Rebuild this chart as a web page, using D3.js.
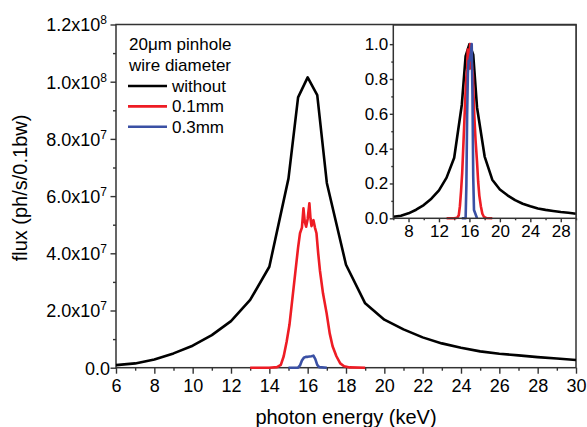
<!DOCTYPE html>
<html>
<head>
<meta charset="utf-8">
<script src="https://cdn.jsdelivr.net/npm/d3@7"></script>
<style>
  body { margin: 0; background: #fff; }
  text { font-family: "Liberation Sans", Arial, sans-serif; fill: #000; }
  .axis .domain { display: none; }
  .axis line { stroke: #333; stroke-width: 1.4; }
</style>
</head>
<body>
<div id="my_chart"></div>
<script>
// data (flux in units of 1e7 ph/s/0.1bw)
const energyWithout = [6, 7, 8, 9, 10, 11, 12, 13, 14, 15, 15.5, 16, 16.5, 17, 18, 19, 20, 21, 22, 23, 24, 25, 26, 27, 28, 29, 30];
const fluxWithout = [0.09, 0.15, 0.29, 0.5, 0.77, 1.14, 1.63, 2.37, 3.53, 6.62, 9.45, 10.15, 9.53, 6.46, 3.6, 2.25, 1.68, 1.34, 1.06, 0.85, 0.7, 0.57, 0.49, 0.43, 0.37, 0.32, 0.27];

const energy01 = [13, 14, 14.4, 14.6, 14.75, 14.9, 15.05, 15.2, 15.35, 15.5, 15.6, 15.7, 15.78, 15.85, 15.92, 16.0, 16.09, 16.15, 16.2, 16.3, 16.38, 16.46, 16.55, 16.64, 16.8, 16.99, 17.15, 17.3, 17.5, 17.7, 17.9, 18.2, 19];
const flux01 = [0, 0, 0.02, 0.1, 0.4, 0.9, 1.5, 2.4, 3.3, 4.2, 4.7, 4.9, 5.57, 5.1, 4.93, 5.2, 5.75, 5.2, 4.95, 5.16, 4.9, 4.7, 4.0, 3.4, 2.6, 1.9, 1.2, 0.75, 0.4, 0.15, 0.05, 0.01, 0];

const energy03 = [15.0, 15.5, 15.6, 15.7, 15.8, 15.9, 16.0, 16.1, 16.2, 16.3, 16.4, 16.5, 16.6, 17.0];
const flux03 = [0, 0, 0.08, 0.25, 0.35, 0.38, 0.38, 0.39, 0.4, 0.42, 0.3, 0.1, 0.02, 0];

const seriesNames = ["without", "0.1mm", "0.3mm"];
const seriesColors = ["#000000", "#ee1c24", "#3a50a4"];

const xTicks = [6, 8, 10, 12, 14, 16, 18, 20, 22, 24, 26, 28, 30];
const xMinor = [7, 9, 11, 13, 15, 17, 19, 21, 23, 25, 27, 29];
const yTicks = [0, 2e7, 4e7, 6e7, 8e7, 1e8, 1.2e8];
const yTickMain = ["0.0", "2.0x10", "4.0x10", "6.0x10", "8.0x10", "1.0x10", "1.2x10"];
const yTickExp = ["", "7", "7", "7", "7", "8", "8"];
const yMinor = [1e7, 3e7, 5e7, 7e7, 9e7, 1.1e8];

const insetXTicks = [8, 12, 16, 20, 24, 28];
const insetXMinor = [6, 10, 14, 18, 22, 26, 30];
const insetYTicks = [0, 0.2, 0.4, 0.6, 0.8, 1.0];
const insetYMinor = [0.1, 0.3, 0.5, 0.7, 0.9];

const series = [
    { name: seriesNames[0], color: seriesColors[0], pts: energyWithout.map((e, i) => [e, fluxWithout[i] * 1e7]) },
    { name: seriesNames[1], color: seriesColors[1], pts: energy01.map((e, i) => [e, flux01[i] * 1e7]) },
    { name: seriesNames[2], color: seriesColors[2], pts: energy03.map((e, i) => [e, flux03[i] * 1e7]) }
];

// set the dimensions and margins of the graph
const margin = { top: 24.5, right: 11, bottom: 59.3, left: 116 },
    width = 587 - margin.left - margin.right,
    height = 427 - margin.top - margin.bottom;

const svg = d3.select("#my_chart")
    .append("svg")
    .attr("width", 587)
    .attr("height", 427);

const g = svg.append("g")
    .attr("transform", `translate(${margin.left},${margin.top})`);

const x = d3.scaleLinear().domain([6, 30]).range([0, width]);
const y = d3.scaleLinear().domain([0, 1.2e8]).range([height, 0]);

// x axis
g.append("g").attr("class", "axis")
    .attr("transform", `translate(0,${height})`)
    .call(d3.axisBottom(x).tickValues(xMinor).tickSize(3).tickFormat(""));
g.append("g").attr("class", "axis")
    .attr("transform", `translate(0,${height})`)
    .call(d3.axisBottom(x).tickValues(xTicks).tickSize(6).tickPadding(5.5).tickFormat(d3.format("d")))
    .selectAll("text").style("font-size", "18px").attr("fill", "#000");

// y axis
g.append("g").attr("class", "axis")
    .call(d3.axisLeft(y).tickValues(yMinor).tickSize(3).tickFormat(""));
const yAx = g.append("g").attr("class", "axis")
    .call(d3.axisLeft(y).tickValues(yTicks).tickSize(5.5).tickFormat(""));
yAx.selectAll(".tick text").remove();
yAx.selectAll(".tick").each(function (d, i) {
    const t = d3.select(this).append("text")
        .attr("x", i === 0 ? -6 : -9)
        .attr("dy", "0.36em")
        .attr("text-anchor", "end")
        .style("font-size", "18px");
    t.append("tspan").text(yTickMain[i]);
    if (yTickExp[i]) {
        t.append("tspan").attr("dy", -7).style("font-size", "12px").text(yTickExp[i]);
    }
});

// frame
g.append("rect")
    .attr("width", width).attr("height", height)
    .attr("fill", "none").attr("stroke", "#333").attr("stroke-width", 1.5);

// lines
const line = d3.line().x(d => x(d[0])).y(d => y(d[1]));
g.selectAll(".curve")
    .data(series)
    .join("path")
    .attr("class", "curve")
    .attr("fill", "none")
    .attr("stroke", d => d.color)
    .attr("stroke-width", 2.6)
    .attr("stroke-linejoin", "round")
    .attr("d", d => line(d.pts));

// axis titles
g.append("text")
    .attr("x", width / 2).attr("y", 399.5)
    .attr("text-anchor", "middle")
    .style("font-size", "20px")
    .text("photon energy (keV)");
g.append("text")
    .attr("transform", "rotate(-90)")
    .attr("x", -163.5).attr("y", -89)
    .attr("text-anchor", "middle")
    .style("font-size", "20px")
    .text("flux (ph/s/0.1bw)");

// legend
const leg = svg.append("g");
leg.append("text").attr("x", 129).attr("y", 50).style("font-size", "17px").text("20μm pinhole");
leg.append("text").attr("x", 129).attr("y", 71).style("font-size", "17px").text("wire diameter");
series.forEach((s, i) => {
    const yy = 86 + i * 20.4;
    leg.append("line").attr("x1", 128).attr("x2", 167).attr("y1", yy).attr("y2", yy)
        .attr("stroke", s.color).attr("stroke-width", 2.6);
    leg.append("text").attr("x", 172).attr("y", yy + 6).style("font-size", "17px").text(s.name);
});

// inset
const inset = { left: 393.3, top: 25, right: 576, bottom: 218.3 };
const iw = inset.right - inset.left, ih = inset.bottom - inset.top;
const gi = svg.append("g").attr("transform", `translate(${inset.left},${inset.top})`);
gi.append("rect").attr("width", iw).attr("height", ih).attr("fill", "#fff");

const xi = d3.scaleLinear().domain([6, 30]).range([0, iw]);
const yi = d3.scaleLinear().domain([0, 1.11]).range([ih, 0]);

gi.append("g").attr("class", "axis")
    .attr("transform", `translate(0,${ih})`)
    .call(d3.axisBottom(xi).tickValues(insetXMinor).tickSize(2).tickFormat(""));
gi.append("g").attr("class", "axis")
    .attr("transform", `translate(0,${ih})`)
    .call(d3.axisBottom(xi).tickValues(insetXTicks).tickSize(4).tickPadding(3).tickFormat(d3.format("d")))
    .selectAll("text").style("font-size", "17px").attr("fill", "#000");
gi.append("g").attr("class", "axis")
    .call(d3.axisLeft(yi).tickValues(insetYMinor).tickSize(2).tickFormat(""));
gi.append("g").attr("class", "axis")
    .call(d3.axisLeft(yi).tickValues(insetYTicks).tickSize(3.5).tickPadding(1.5).tickFormat(d3.format(".1f")))
    .selectAll("text").style("font-size", "17px").attr("fill", "#000");

const lineI = d3.line().x(d => xi(d[0])).y(d => yi(d[1]));
gi.selectAll(".icurve")
    .data(series)
    .join("path")
    .attr("class", "icurve")
    .attr("fill", "none")
    .attr("stroke", d => d.color)
    .attr("stroke-width", 2.6)
    .attr("stroke-linejoin", "round")
    .attr("d", d => {
        const m = d3.max(d.pts, p => p[1]);
        return lineI(d.pts.map(p => [p[0], p[1] / m]));
    });

gi.append("rect")
    .attr("width", iw).attr("height", ih)
    .attr("fill", "none").attr("stroke", "#333").attr("stroke-width", 1.5);
</script>
</body>
</html>
